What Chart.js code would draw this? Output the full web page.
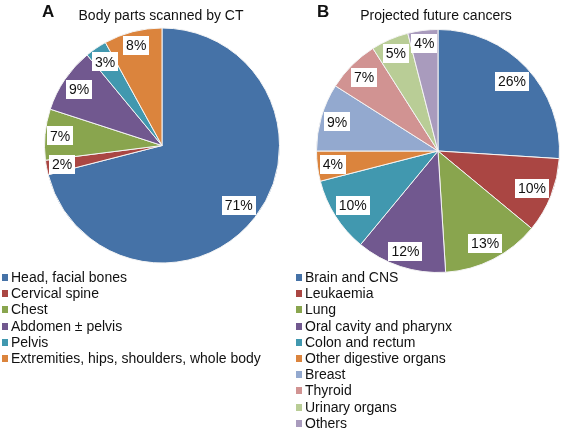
<!DOCTYPE html>
<html>
<head>
<meta charset="utf-8">
<script src="https://cdn.jsdelivr.net/npm/chart.js@4.4.1/dist/chart.umd.min.js"></script>
<style>
  body { margin: 0; background: #fff; font-family: "Liberation Sans", Arial, sans-serif; }
  #wrap { position: relative; width: 563px; height: 431px; overflow: hidden; }
  canvas { position: absolute; }
  .title { position: absolute; font-size: 14px; color: #111; white-space: nowrap; transform: translateX(-50%); }
  .letter { position: absolute; font-size: 17px; font-weight: bold; color: #111; }
  .legend { position: absolute; font-size: 14px; color: #111; line-height: 16.2px; }
  .legend div { white-space: nowrap; }
  .legend span { display: inline-block; width: 6px; height: 7px; margin-right: 3px; vertical-align: 1px; }
</style>
</head>
<body>
<div id="wrap">
  <canvas id="pieA" width="282" height="270" style="left:0;top:0"></canvas>
  <canvas id="pieB" width="281" height="280" style="left:282px;top:0"></canvas>
  <div class="letter" style="left:42px;top:2px">A</div>
  <div class="title" style="left:161px;top:7px">Body parts scanned by CT</div>
  <div class="letter" style="left:317px;top:2px">B</div>
  <div class="title" style="left:436px;top:7px">Projected future cancers</div>
  <div class="legend" id="legA" style="left:2px;top:269px"></div>
  <div class="legend" id="legB" style="left:296px;top:269px"></div>
</div>
<script>
// Panel A: body parts scanned by CT (%)
const scanLabels = ['Head, facial bones', 'Cervical spine', 'Chest', 'Abdomen \u00b1 pelvis', 'Pelvis',
    'Extremities, hips, shoulders, whole body'];
const scanValues = [71, 2, 7, 9, 3, 8];
const scanColors = ['#4572A7', '#AA4643', '#89A54E', '#71588F', '#4198AF', '#DB843D'];

// Panel B: projected future cancers (%)
const cancerLabels = ['Brain and CNS', 'Leukaemia', 'Lung', 'Oral cavity and pharynx', 'Colon and rectum',
    'Other digestive organs', 'Breast', 'Thyroid', 'Urinary organs', 'Others'];
const cancerValues = [26, 10, 13, 12, 10, 4, 9, 7, 5, 4];
const cancerColors = ['#4572A7', '#AA4643', '#89A54E', '#71588F', '#4198AF', '#DB843D',
    '#93A9CF', '#D19392', '#B9CD96', '#A99BBD'];

// white boxed % labels, pushed out until the box touches the rim ("inside end")
const boxLabels = {
    id: 'boxLabels',
    afterDatasetsDraw(chart) {
        const ctx = chart.ctx;
        const meta = chart.getDatasetMeta(0);
        const data = chart.data.datasets[0].data;
        ctx.save();
        ctx.font = '14px "Liberation Sans", Arial, sans-serif';
        ctx.textAlign = 'center';
        ctx.textBaseline = 'middle';
        meta.data.forEach((arc, i) => {
            const p = arc.getProps(['x', 'y', 'startAngle', 'endAngle', 'outerRadius']);
            const mid = (p.startAngle + p.endAngle) / 2;
            const ux = Math.cos(mid), uy = Math.sin(mid);
            const txt = data[i] + '%';
            const w = (ctx.measureText(txt).width + 6) / 2;
            const h = 9.5;
            const R = p.outerRadius - 1;
            const b = Math.abs(ux) * w + Math.abs(uy) * h;
            const r = -b + Math.sqrt(b * b - (w * w + h * h - R * R));
            const cx = p.x + ux * r, cy = p.y + uy * r;
            ctx.fillStyle = '#fff';
            ctx.fillRect(Math.round(cx - w), Math.round(cy - h), Math.round(2 * w), Math.round(2 * h));
            ctx.fillStyle = '#111';
            ctx.fillText(txt, cx, cy + 1);
        });
        ctx.restore();
    }
};

function makePie(id, labels, values, colors, pad) {
    return new Chart(document.getElementById(id), {
        type: 'pie',
        data: {
            labels: labels,
            datasets: [{
                data: values,
                backgroundColor: colors,
                borderColor: '#f4f4f4',
                borderWidth: 1
            }]
        },
        options: {
            responsive: false,
            animation: false,
            layout: { padding: pad },
            plugins: {
                legend: { display: false },
                tooltip: { enabled: false }
            }
        },
        plugins: [boxLabels]
    });
}

function makeLegend(id, labels, colors) {
    const el = document.getElementById(id);
    labels.forEach((l, i) => {
        const row = document.createElement('div');
        const sw = document.createElement('span');
        sw.style.background = colors[i];
        row.appendChild(sw);
        row.appendChild(document.createTextNode(l));
        el.appendChild(row);
    });
}

makePie('pieA', scanLabels, scanValues, scanColors, { left: 44, right: 2, top: 27, bottom: 6 });
makePie('pieB', cancerLabels, cancerValues, cancerColors, { left: 34, right: 3, top: 29, bottom: 7 });
makeLegend('legA', scanLabels, scanColors);
makeLegend('legB', cancerLabels, cancerColors);
</script>
</body>
</html>
